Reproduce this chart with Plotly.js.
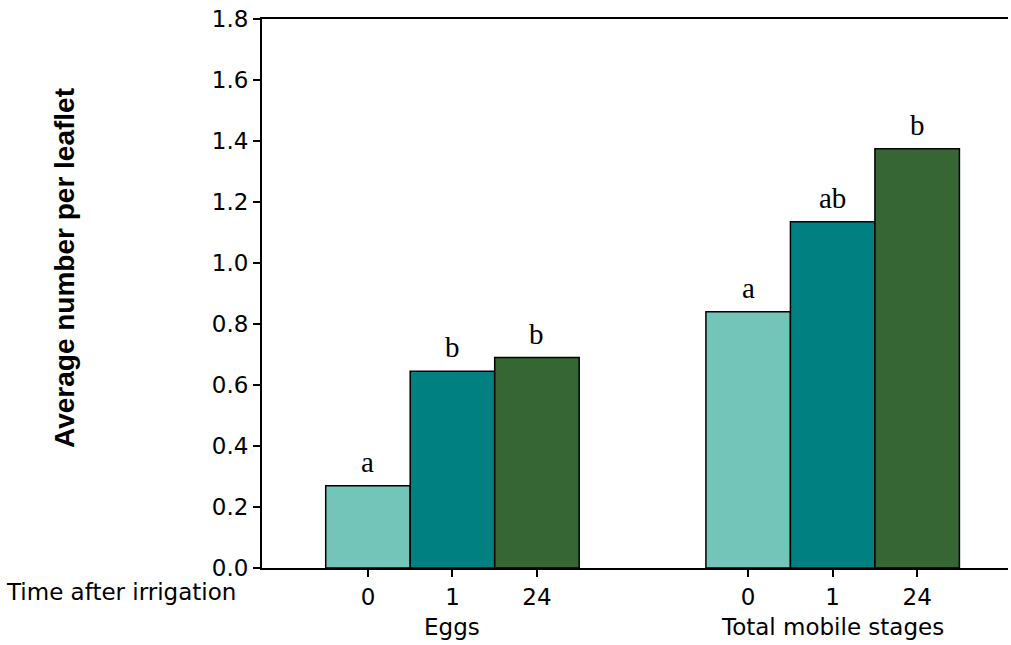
<!DOCTYPE html>
<html><head><meta charset="utf-8">
<script src="https://cdn.plot.ly/plotly-3.0.1.min.js"></script>
<style>body{margin:0;background:#fff}</style>
</head><body>
<div id="chart" style="width:1011px;height:645px"></div>
<script>
const groups = ["Eggs", "Total mobile stages"];
const times = ["0", "1", "24"];
const eggs = [0.27, 0.645, 0.69];
const mobile = [0.84, 1.135, 1.375];
const eggsLetters = ["a", "b", "b"];
const mobileLetters = ["a", "ab", "b"];
const colors = ["#73C5B9", "#008080", "#356633"];
const yTitle = "Average number per leaflet";
const xLeftLabel = "Time after irrigation";

const eggX = [0, 1, 2];
const mobX = [4.5, 5.5, 6.5];

const traces = times.map((t, i) => ({
  type: "bar",
  x: [eggX[i], mobX[i]],
  y: [eggs[i], mobile[i]],
  width: 1,
  marker: {color: colors[i], line: {color: "#000", width: 1.5}},
  hoverinfo: "none",
  showlegend: false
}));

const W = 1008 - 262;
const tickFont = {family: "DejaVu Sans, sans-serif", size: 23, color: "#000"};
const letterFont = {family: "Liberation Serif, serif", size: 29, color: "#000"};
const annotations = [];
for (let i = 0; i < 3; i++) {
  annotations.push({x: eggX[i], y: eggs[i], text: eggsLetters[i], showarrow: false, yanchor: "bottom", yshift: 6, font: letterFont});
  annotations.push({x: mobX[i], y: mobile[i], text: mobileLetters[i], showarrow: false, yanchor: "bottom", yshift: 6, font: letterFont});
}
annotations.push({x: eggX[1], y: 0, text: groups[0], showarrow: false, yanchor: "middle", yshift: -59, font: tickFont});
annotations.push({x: mobX[1], y: 0, text: groups[1], showarrow: false, yanchor: "middle", yshift: -59, font: tickFont});
annotations.push({x: (238 - 262) / W, xref: "paper", xanchor: "right", y: 0, text: xLeftLabel, showarrow: false,
  yanchor: "middle", yshift: -24, font: tickFont});
annotations.push({x: (64 - 262) / W, xref: "paper", xanchor: "center", y: (568 - 268) / 549, yref: "paper", yanchor: "middle",
  text: "<b>" + yTitle + "</b>", textangle: -90, showarrow: false,
  font: {family: "Liberation Sans, Arial, sans-serif", size: 28, color: "#000"}});

const layout = {
  width: 1011, height: 645,
  margin: {l: 262, r: 3, t: 19, b: 77},
  paper_bgcolor: "#fff", plot_bgcolor: "#fff",
  barmode: "overlay",
  xaxis: {
    range: [-1.254, 7.575],
    tickmode: "array",
    tickvals: eggX.concat(mobX),
    ticktext: times.concat(times),
    ticks: "outside", ticklen: 7, tickwidth: 2, tickcolor: "#000",
    showline: true, linecolor: "#000", linewidth: 2, mirror: true,
    showgrid: false, zeroline: false,
    tickfont: tickFont
  },
  yaxis: {
    range: [0, 1.8],
    tickvals: [0, 0.2, 0.4, 0.6, 0.8, 1.0, 1.2, 1.4, 1.6, 1.8],
    tickformat: ".1f",
    ticks: "outside", ticklen: 7, tickwidth: 2, tickcolor: "#000",
    showline: true, linecolor: "#000", linewidth: 2,
    showgrid: false, zeroline: false,
    tickfont: tickFont,
    automargin: false
  },
  annotations: annotations
};

Plotly.newPlot("chart", traces, layout, {displayModeBar: false, staticPlot: true});
</script>
</body></html>
